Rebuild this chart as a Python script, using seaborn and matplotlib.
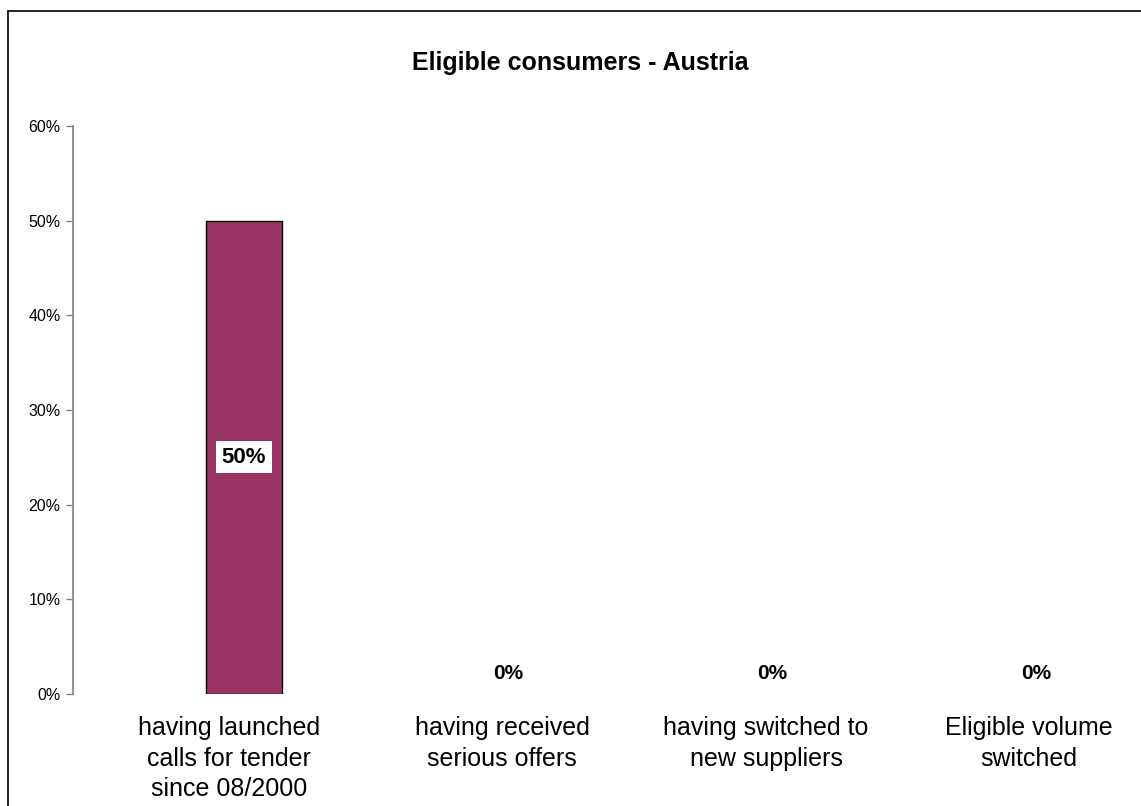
import matplotlib
matplotlib.use("Agg")
import matplotlib.pyplot as plt
from matplotlib.lines import Line2D
from matplotlib.transforms import ScaledTranslation
import seaborn as sns
import pandas as pd

categories = [
    "having launched\ncalls for tender\nsince 08/2000",
    "having received\nserious offers",
    "having switched to\nnew suppliers",
    "Eligible volume\nswitched",
]
values = [50, 0, 0, 0]
tick_values = [0, 10, 20, 30, 40, 50, 60]
tick_labels = ["0%", "10%", "20%", "30%", "40%", "50%", "60%"]

df = pd.DataFrame({"category": categories, "value": values})

sns.set_theme(style="white")
plt.rcParams["font.family"] = ["Liberation Sans", "DejaVu Sans"]
plt.rcParams["text.color"] = "black"
plt.rcParams["xtick.color"] = "black"
plt.rcParams["ytick.color"] = "black"

W, H = 1141, 806
fig = plt.figure(figsize=(W / 100, H / 100), dpi=100)
ax = fig.add_axes([73 / W, (H - 694) / H, (W - 73) / W, (694 - 126) / H])

sns.barplot(data=df, x="category", y="value", ax=ax, color="#9A3462",
            saturation=1, width=0.29, edgecolor="black", linewidth=1)
# zero-height bars leave no outline
for patch in ax.patches:
    if patch.get_height() == 0:
        patch.set_linewidth(0)

ax.set_xlim(-0.648, 3.398)
ax.set_ylim(0, 60)
ax.set_yticks(tick_values)
ax.set_yticklabels(tick_labels, fontsize=11.5)
ax.tick_params(axis="y", left=True, length=5, width=1, color="#808080",
               labelcolor="black", pad=4)
ax.tick_params(axis="x", bottom=False, labelsize=18, labelcolor="black", pad=10)
# category labels sit slightly left of the bar centres
label_shift_px = [-15, -6, -6, -7]
for lbl, dx in zip(ax.get_xticklabels(), label_shift_px):
    lbl.set_linespacing(1.34)
    lbl.set_transform(lbl.get_transform() + ScaledTranslation(dx / 100, 0, fig.dpi_scale_trans))
ax.set_xlabel("")
ax.set_ylabel("")
for side in ["top", "right", "bottom"]:
    ax.spines[side].set_visible(False)
ax.spines["left"].set_color("#808080")
ax.spines["left"].set_linewidth(1.2)

# value labels
for i, v in enumerate(values):
    if v > 0:
        ax.text(i, v / 2, f"{v}%", ha="center", va="center", fontsize=16,
                fontweight="bold", color="black",
                bbox=dict(facecolor="white", edgecolor="none", pad=4))
    else:
        ax.text(i, v + 2.2, f"{v}%", ha="center", va="center", fontsize=15,
                fontweight="bold", color="black")

fig.text(580 / W, 1 - 63 / H, "Eligible consumers - Austria", ha="center",
         va="center", fontsize=18, fontweight="bold", color="black")

# outer frame lines
fig.add_artist(Line2D([8 / W, 1], [1 - 11 / H, 1 - 11 / H], color="black", lw=1.2))
fig.add_artist(Line2D([8 / W, 8 / W], [0, 1 - 11 / H], color="black", lw=1.2))

fig.savefig("out.png", dpi=100)
